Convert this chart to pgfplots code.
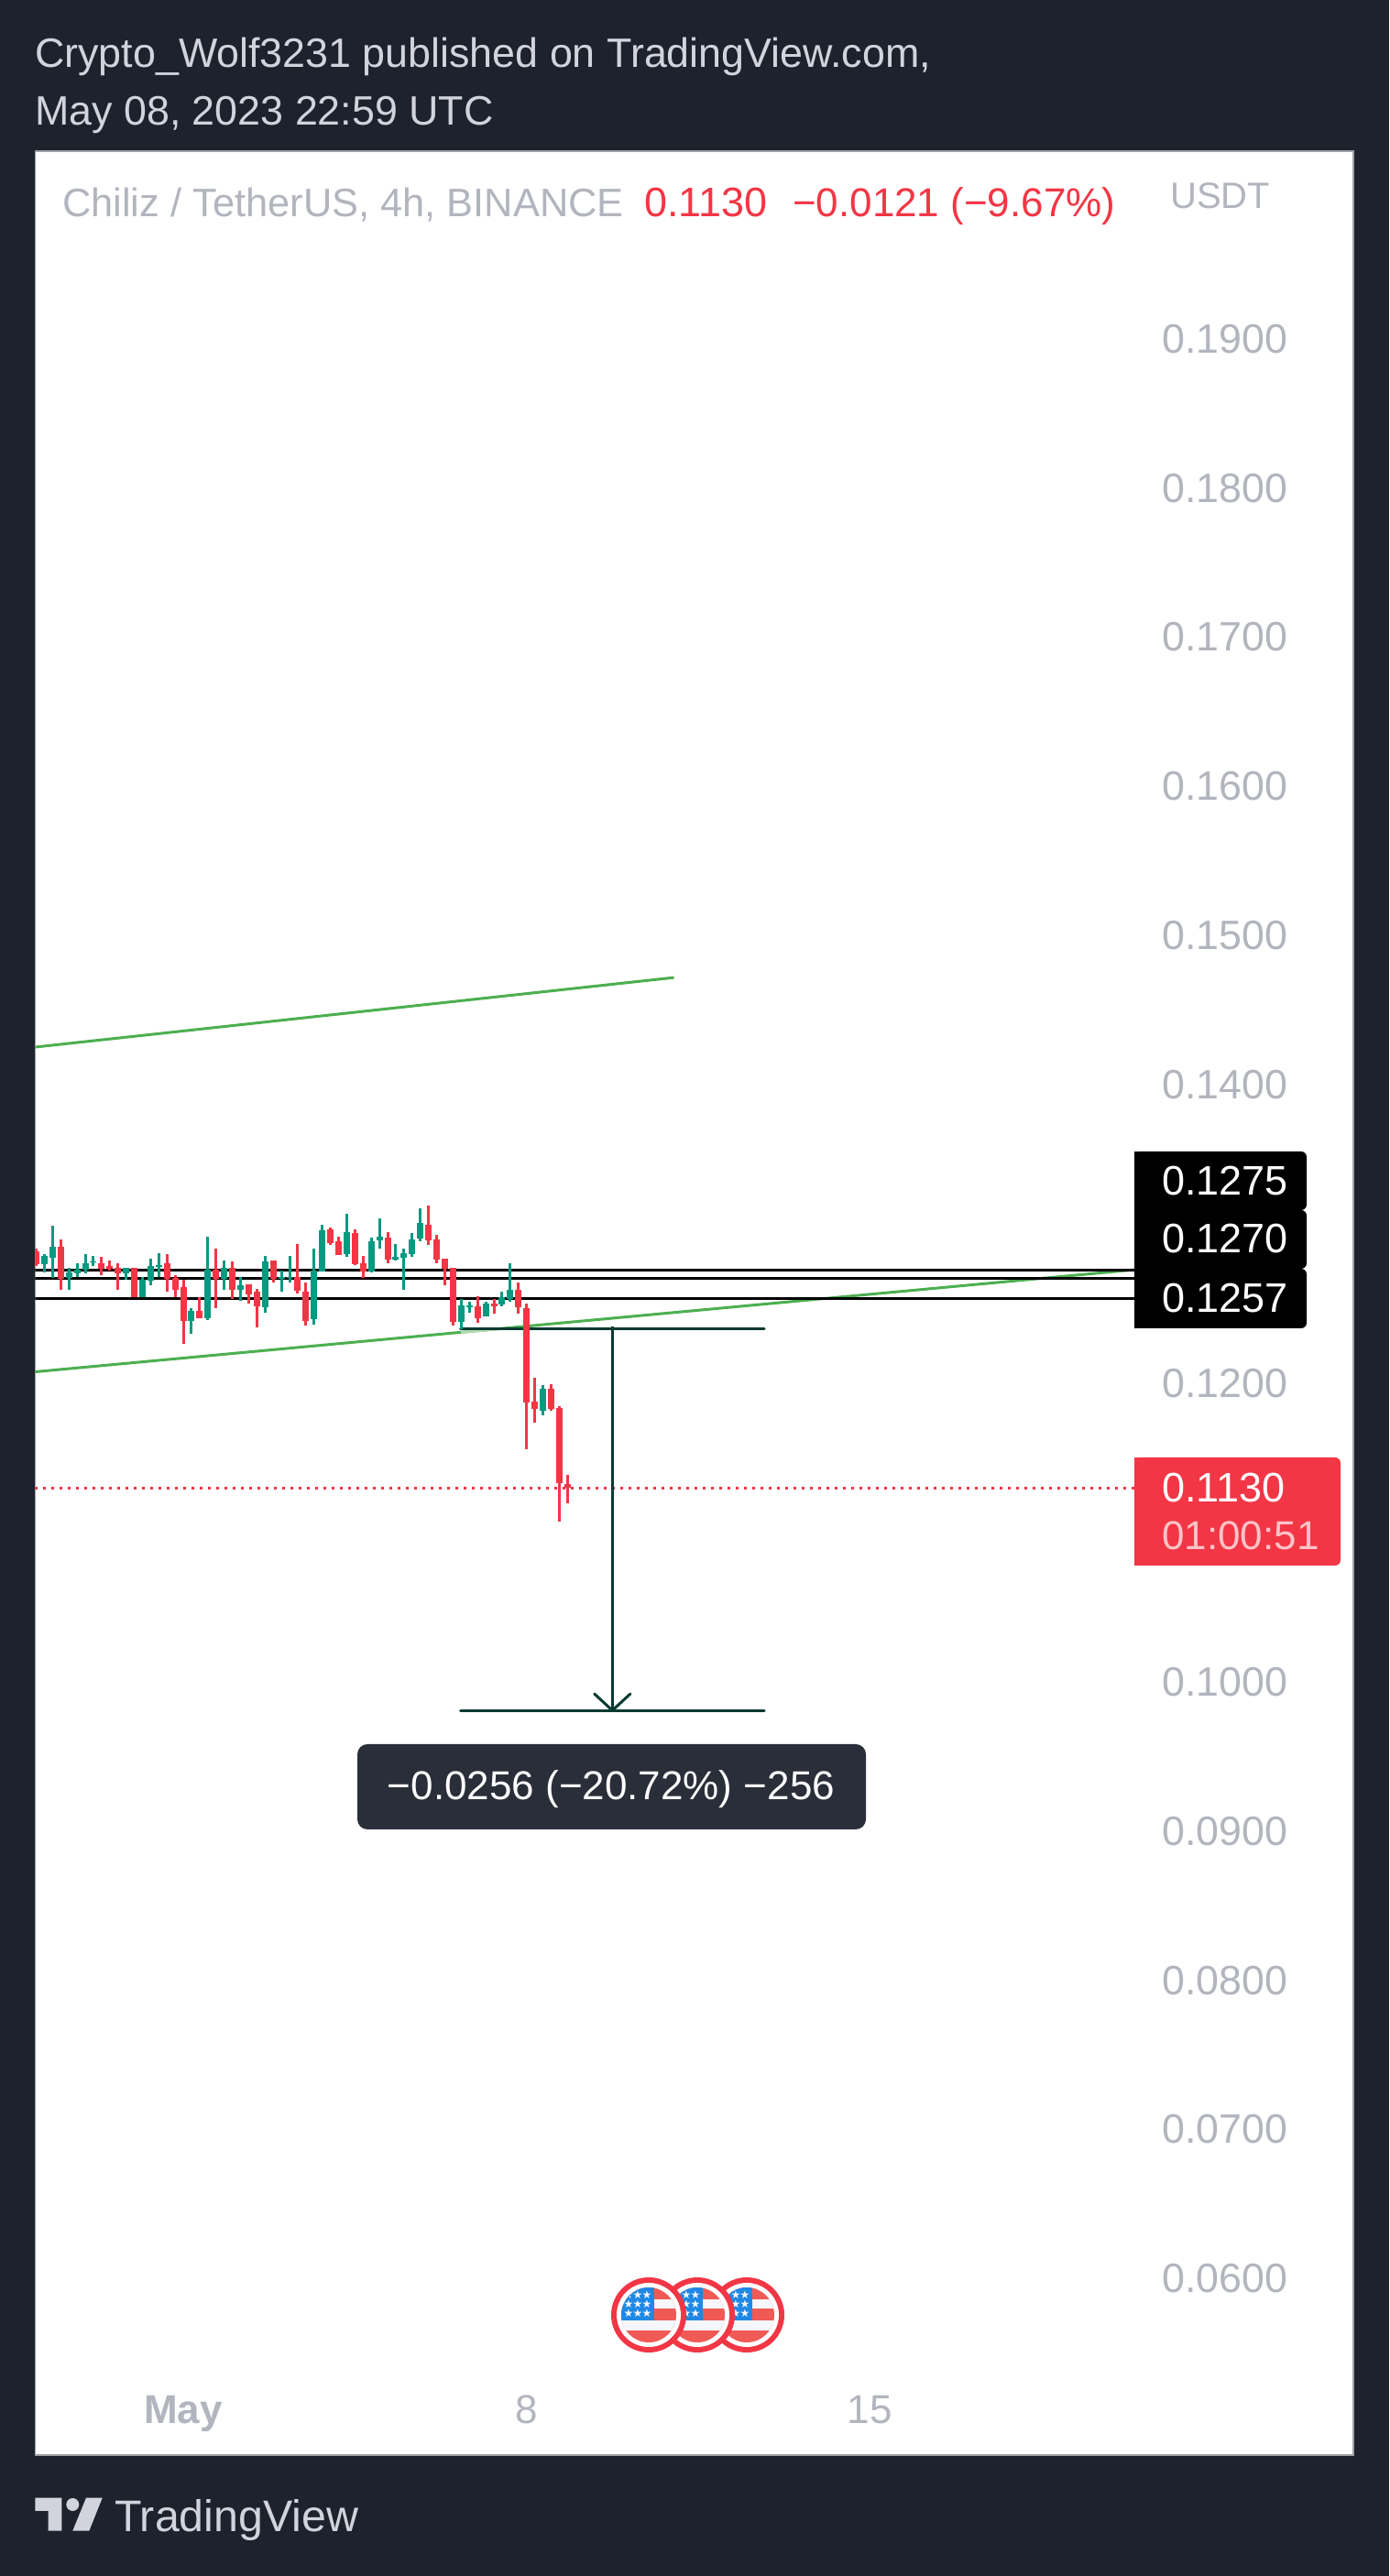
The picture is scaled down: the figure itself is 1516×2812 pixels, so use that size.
\documentclass[border=0pt]{standalone}
\usepackage{fontspec}
\usepackage{pgfplots}
\usepackage{pgfplotstable}
\pgfplotsset{compat=1.18}
\setmainfont{Liberation Sans}
\newfontfamily\symfont{DejaVu Sans}
\definecolor{bg}{HTML}{1E222D}
\definecolor{cred}{HTML}{F23645}
\definecolor{cgreen}{HTML}{089981}
\definecolor{tick}{HTML}{B2B5BE}
\definecolor{head}{HTML}{D1D4DC}
\definecolor{tgreen}{HTML}{4CAF50}
\definecolor{tool}{HTML}{0A3A32}
\definecolor{tip}{HTML}{2A2E39}
\definecolor{flagred}{HTML}{F05A55}
\definecolor{flagblue}{HTML}{1E88E5}
\definecolor{flagwhite}{HTML}{F5F7FD}
% x high low top bottom
\pgfplotstableread{
x high low top bottom
0 .12903 .12786 .12885 .12799
3 .12964 .12627 .12915 .12700
8 .12848 .12725 .12805 .12768
9 .12823 .12756 .12786 .12768
10 .12805 .12627 .12774 .12737
12 .12774 .12578 .12774 .12578
16 .12866 .12614 .12805 .12700
17 .12725 .12578 .12707 .12627
18 .12694 .12265 .12645 .12418
20 .12578 .12436 .12486 .12436
22 .12903 .12504 .12762 .12700
24 .12817 .12565 .12774 .12627
26 .12664 .12535 .12664 .12596
27 .12633 .12375 .12614 .12516
29 .12823 .12676 .12823 .12700
32 .12934 .12602 .12713 .12621
33 .12676 .12387 .12614 .12418
36 .13044 .12927 .13032 .12940
37 .12983 .12860 .12952 .12860
39 .13032 .12792 .13007 .12799
40 .12854 .12707 .12805 .12749
43 .13013 .12805 .12977 .12829
48 .13191 .12927 .13063 .12958
49 .12995 .12805 .12964 .12829
50 .12835 .12657 .12835 .12768
51 .12774 .12387 .12774 .12412
54 .12584 .12406 .12516 .12436
56 .12565 .12467 .12535 .12516
59 .12676 .12467 .12627 .12510
60 .12535 .11559 .12504 .11872
61 .12037 .11737 .11878 .11829
63 .11995 .11817 .11964 .11829
64 .11847 .11074 .11835 .11332
65 .11387 .11197 .11325 .11300
}\redcandles
\pgfplotstableread{
x high low top bottom
1 .12866 .12743 .12854 .12799
2 .13056 .12707 .12915 .12842
4 .12774 .12627 .12743 .12707
5 .12805 .12713 .12762 .12737
6 .12866 .12737 .12805 .12762
7 .12854 .12786 .12817 .12811
11 .12774 .12694 .12774 .12737
13 .12713 .12578 .12694 .12578
14 .12835 .12657 .12786 .12688
15 .12872 .12713 .12792 .12780
19 .12504 .12332 .12486 .12418
21 .12983 .12424 .12762 .12436
23 .12823 .12627 .12774 .12700
25 .12713 .12553 .12657 .12627
28 .12854 .12473 .12817 .12510
30 .12756 .12614 .12713 .12700
31 .12854 .12676 .12713 .12707
34 .12903 .12393 .12756 .12430
35 .13063 .12749 .13026 .12749
38 .13136 .12848 .13013 .12866
41 .12977 .12743 .12952 .12749
42 .13105 .12903 .12983 .12958
44 .12934 .12823 .12848 .12829
45 .12903 .12627 .12872 .12842
46 .13007 .12848 .12964 .12866
47 .13173 .12952 .13075 .12970
52 .12565 .12363 .12522 .12412
53 .12547 .12473 .12520 .12510
55 .12547 .12449 .12535 .12449
57 .12614 .12516 .12578 .12529
58 .12805 .12547 .12627 .12565
62 .11988 .11786 .11964 .11817
}\greencandles
\newcommand{\candles}[2]{%
  \addplot[draw=none,forget plot,error bars/.cd,y dir=both,y explicit,error mark=none,
    error bar style={line width=3pt,color=#2}]
    table[x=x,y=high,y error plus expr=0,y error minus expr=\thisrow{high}-\thisrow{low}] {#1};
  \addplot[draw=none,forget plot,error bars/.cd,y dir=both,y explicit,error mark=none,
    error bar style={line width=7pt,color=#2}]
    table[x=x,y=top,y error plus expr=0,y error minus expr=\thisrow{top}-\thisrow{bottom}] {#1};
}
\newcommand{\usflag}[2]{%
  \fill[cred] (#1pt,#2pt) circle (41pt);
  \fill[white] (#1pt,#2pt) circle (35pt);
  \begin{scope}[shift={(#1pt,#2pt)}]
    \clip (0,0) circle (30pt);
    \fill[flagred] (-31pt,-31pt) rectangle (31pt,31pt);
    \fill[flagwhite] (-31pt,16.7pt) rectangle (31pt,6.7pt);
    \fill[flagwhite] (-31pt,-6pt) rectangle (31pt,-16.7pt);
    \fill[flagblue] (-31pt,-6pt) rectangle (6pt,31pt);
    \foreach \sx in {-22,-12,-2}{\foreach \sy in {2,12,22}{
      \node[text=flagwhite,inner sep=0pt,font=\symfont\fontsize{12}{12}\selectfont] at (\sx pt,\sy pt) {★};}}
  \end{scope}}
\begin{document}
\begin{tikzpicture}[x=1pt,y=1pt]
\fill[bg] (0,0) rectangle (1516,2812);
\node[anchor=base west,inner sep=0pt,text=head,font=\fontsize{44.8}{44.8}\selectfont] at (38,2738) {Crypto\_Wolf3231 published on TradingView.com,};
\node[anchor=base west,inner sep=0pt,text=head,font=\fontsize{44.8}{44.8}\selectfont] at (38,2675) {May 08, 2023 22:59 UTC};
\begin{axis}[at={(38.3pt,132pt)},anchor=south west,scale only axis,width=1438.7pt,height=2515pt,
  xmin=-0.135,xmax=161.15,ymin=0.04818,ymax=0.20257,
  axis background/.style={fill=white},
  axis line style={color=tick!60!gray,line width=1.5pt},
  tick style={draw=none},
  xtick={18,60,102},xticklabels={\textbf{May},8,15},
  xticklabel style={text=tick,font=\fontsize{44}{44}\selectfont,anchor=base,yshift=34.2pt},
  ytick={0.06,0.07,0.08,0.09,0.10,0.12,0.14,0.15,0.16,0.17,0.18,0.19},
  yticklabel pos=right,
  yticklabel style={text=tick,font=\fontsize{44.8}{44.8}\selectfont,anchor=east,xshift=-68pt,yshift=0pt,
    /pgf/number format/fixed,/pgf/number format/fixed zerofill,/pgf/number format/precision=4,
    /pgf/number format/assume math mode=true},
  scaled y ticks=false,
  clip=true]
% drawings
\addplot[no marks,color=tgreen,line width=3pt] coordinates {(-0.135,.14253)(78.03,.14719)};
\addplot[no marks,color=tgreen,line width=3pt] coordinates {(-0.135,.12077)(134.36,.12761)};
\addplot[no marks,color=tgreen!45,line width=3pt] coordinates {(51.96,.12342)(57.24,.12368)};
\addplot[no marks,color=black,line width=3pt] coordinates {(-0.135,.12756)(134.36,.12756)};
\addplot[no marks,color=black,line width=3pt] coordinates {(-0.135,.12702)(134.36,.12702)};
\addplot[no marks,color=black,line width=3pt] coordinates {(-0.135,.12570)(134.36,.12570)};
\addplot[no marks,color=cred,line width=3pt,dash pattern=on 3pt off 6pt] coordinates {(-0.135,.1130)(134.36,.1130)};
% measure tool
\addplot[no marks,color=tool,line width=3pt,line cap=round] coordinates {(51.93,.12366)(89.07,.12366)};
\addplot[no marks,color=tool,line width=3pt,line cap=round] coordinates {(51.93,.09808)(89.07,.09808)};
\addplot[no marks,color=tool,line width=3pt] coordinates {(70.49,.12380)(70.49,.09808)};
\addplot[no marks,color=tool,line width=3pt,line cap=round] coordinates {(68.30,.09919)(70.49,.09808)(72.69,.09919)};
\candles{\redcandles}{cred}
\candles{\greencandles}{cgreen}
\end{axis}
% measure tooltip
\fill[tip,rounded corners=11pt] (390,815) rectangle (945,908);
\node[anchor=base,text=white,inner sep=0pt,font=\fontsize{44}{44}\selectfont] at (667,847) {−0.0256 (−20.72\%) −256};
% legend
\node[anchor=base west,inner sep=0pt,text=tick,font=\fontsize{43.4}{43.4}\selectfont] at (68,2575) {Chiliz / TetherUS, 4h, BINANCE};
\node[anchor=base west,inner sep=0pt,text=cred,font=\fontsize{45}{45}\selectfont] at (703,2575) {0.1130};
\node[anchor=base west,inner sep=0pt,text=cred,font=\fontsize{44}{44}\selectfont] at (865,2575) {−0.0121 (−9.67\%)};
\node[anchor=base west,inner sep=0pt,text=tick,font=\fontsize{40}{40}\selectfont] at (1277,2584) {USDT};
% price labels
\fill[black,rounded corners=6pt] (1238,1555) -- (1426,1555) -- (1426,1491) -- (1238,1491) -- cycle;
\fill[black] (1238,1555) rectangle (1420,1427);
\fill[black,rounded corners=6pt] (1238,1491) -- (1426,1491) -- (1426,1427) -- (1238,1427) -- cycle;
\fill[black,rounded corners=6pt] (1238,1427) -- (1426,1427) -- (1426,1362) -- (1238,1362) -- cycle;
\fill[black] (1238,1491) rectangle (1420,1362);
\foreach \ty/\tx in {1507/0.1275,1444/0.1270,1379/0.1257}{
  \node[anchor=base west,inner sep=0pt,text=white,font=\fontsize{45}{45}\selectfont] at (1268,\ty) {\tx};}
\fill[cred,rounded corners=6pt] (1238,1221) -- (1463,1221) -- (1463,1103) -- (1238,1103) -- cycle;
\fill[cred] (1238,1221) rectangle (1300,1103);
\node[anchor=base west,inner sep=0pt,text=white,font=\fontsize{45}{45}\selectfont] at (1268,1172) {0.1130};
\node[anchor=base west,inner sep=0pt,text=white,opacity=0.7,font=\fontsize{44}{44}\selectfont] at (1268,1120) {01:00:51};
% event flags
\usflag{815}{285}
\usflag{761}{285}
\usflag{708}{285}
% footer logo
\fill[head] (38.3,85.3) -- (67.3,85.3) -- (67.3,49.3) -- (52.7,49.3) -- (52.7,71) -- (38.3,71) -- cycle;
\fill[head] (79.3,78) circle (7);
\fill[head] (94,85.3) -- (111.7,85.3) -- (97.3,49.3) -- (79.3,49.3) -- cycle;
\node[anchor=base west,inner sep=0pt,text=head,font=\fontsize{48.3}{48.3}\selectfont] at (125,48) {TradingView};
\end{tikzpicture}
\end{document}
